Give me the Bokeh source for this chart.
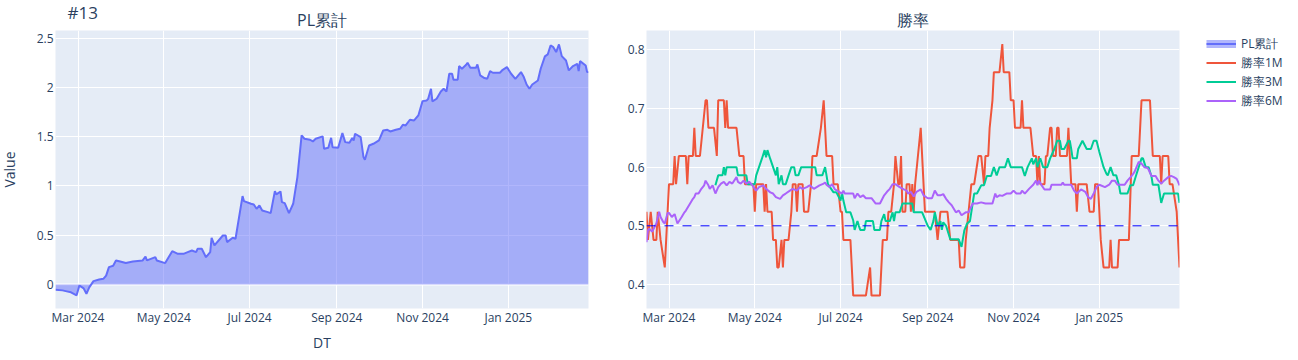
import pandas as pd
from math import pi
from bokeh.plotting import figure
from bokeh.layouts import row
from bokeh.models import (Range1d, FixedTicker, NumeralTickFormatter, DatetimeTickFormatter,
                          Label, Span, Legend, LegendItem)
from bokeh.embed import file_html
from bokeh.resources import INLINE

# ---------------- data ----------------
pl_dates = [
    "2024-02-14", "2024-02-19", "2024-02-22", "2024-02-25", "2024-02-27", "2024-02-29", "2024-03-02", "2024-03-05", "2024-03-07", "2024-03-09",
    "2024-03-12", "2024-03-16", "2024-03-19", "2024-03-21", "2024-03-23", "2024-03-26", "2024-03-28", "2024-03-31", "2024-04-04", "2024-04-09",
    "2024-04-16", "2024-04-18", "2024-04-19", "2024-04-25", "2024-04-26", "2024-05-02", "2024-05-07", "2024-05-11", "2024-05-15", "2024-05-18",
    "2024-05-21", "2024-05-24", "2024-05-25", "2024-05-28", "2024-05-31", "2024-06-03", "2024-06-04", "2024-06-06", "2024-06-12", "2024-06-14",
    "2024-06-15", "2024-06-19", "2024-06-21", "2024-06-26", "2024-06-27", "2024-07-02", "2024-07-04", "2024-07-06", "2024-07-08", "2024-07-10",
    "2024-07-14", "2024-07-16", "2024-07-19", "2024-07-20", "2024-07-23", "2024-07-24", "2024-07-26", "2024-07-29", "2024-08-01", "2024-08-02",
    "2024-08-04", "2024-08-07", "2024-08-09", "2024-08-13", "2024-08-15", "2024-08-17", "2024-08-22", "2024-08-23", "2024-08-26", "2024-08-28",
    "2024-08-29", "2024-09-02", "2024-09-05", "2024-09-07", "2024-09-10", "2024-09-12", "2024-09-13", "2024-09-14", "2024-09-18", "2024-09-20",
    "2024-09-21", "2024-09-24", "2024-09-27", "2024-10-01", "2024-10-04", "2024-10-07", "2024-10-09", "2024-10-13", "2024-10-16", "2024-10-18",
    "2024-10-20", "2024-10-23", "2024-10-26", "2024-10-29", "2024-11-01", "2024-11-04", "2024-11-05", "2024-11-07", "2024-11-08", "2024-11-11",
    "2024-11-14", "2024-11-16", "2024-11-18", "2024-11-20", "2024-11-22", "2024-11-23", "2024-11-26", "2024-11-27", "2024-11-29", "2024-12-02",
    "2024-12-03", "2024-12-05", "2024-12-09", "2024-12-10", "2024-12-12", "2024-12-15", "2024-12-17", "2024-12-19", "2024-12-21", "2024-12-26",
    "2024-12-28", "2024-12-31", "2025-01-03", "2025-01-06", "2025-01-10", "2025-01-12", "2025-01-14", "2025-01-16", "2025-01-18", "2025-01-22",
    "2025-01-24", "2025-01-27", "2025-01-29", "2025-01-31", "2025-02-02", "2025-02-04", "2025-02-06", "2025-02-08", "2025-02-11", "2025-02-13",
    "2025-02-16", "2025-02-19", "2025-02-20", "2025-02-21", "2025-02-25", "2025-02-26", "2025-02-27",
]
pl_values = [
    -0.054, -0.06, -0.07, -0.08, -0.095, -0.11, -0.01, -0.04, -0.095, -0.03,
    0.034, 0.05, 0.057, 0.09, 0.176, 0.19, 0.244, 0.233, 0.217, 0.233,
    0.244, 0.284, 0.244, 0.277, 0.244, 0.217, 0.338, 0.311, 0.311, 0.328,
    0.345, 0.328, 0.362, 0.362, 0.277, 0.328, 0.474, 0.396, 0.497, 0.497,
    0.43, 0.474, 0.464, 0.897, 0.846, 0.819, 0.812, 0.768, 0.802, 0.751,
    0.734, 0.724, 0.948, 0.914, 0.944, 0.836, 0.826, 0.724, 0.819, 0.91,
    1.09, 1.513, 1.479, 1.469, 1.452, 1.479, 1.503, 1.377, 1.387, 1.489,
    1.394, 1.387, 1.536, 1.445, 1.438, 1.486, 1.462, 1.53, 1.496, 1.293,
    1.266, 1.411, 1.428, 1.462, 1.563, 1.57, 1.553, 1.57, 1.58, 1.621,
    1.614, 1.672, 1.665, 1.716, 1.861, 1.868, 1.885, 1.986, 1.858, 1.885,
    1.959, 1.986, 1.959, 2.139, 2.139, 2.078, 2.078, 2.217, 2.19, 2.23,
    2.25, 2.2, 2.2, 2.233, 2.122, 2.095, 2.088, 2.166, 2.149, 2.149,
    2.179, 2.206, 2.139, 2.088, 2.156, 2.105, 2.03, 1.986, 2.03, 2.071,
    2.19, 2.315, 2.335, 2.426, 2.409, 2.359, 2.437, 2.318, 2.274, 2.173,
    2.217, 2.24, 2.166, 2.267, 2.223, 2.156, 2.156,
]

wr1m_dates = [
    "2024-02-14", "2024-02-15", "2024-02-17", "2024-02-19", "2024-02-21", "2024-02-22", "2024-02-24", "2024-02-27", "2024-02-29", "2024-03-01",
    "2024-03-04", "2024-03-05", "2024-03-06", "2024-03-08", "2024-03-13", "2024-03-14", "2024-03-15", "2024-03-18", "2024-03-19", "2024-03-20",
    "2024-03-23", "2024-03-27", "2024-03-28", "2024-03-29", "2024-04-02", "2024-04-04", "2024-04-05", "2024-04-09", "2024-04-10", "2024-04-11",
    "2024-04-12", "2024-04-18", "2024-04-20", "2024-04-23", "2024-04-24", "2024-04-30", "2024-05-01", "2024-05-02", "2024-05-07", "2024-05-08",
    "2024-05-09", "2024-05-10", "2024-05-13", "2024-05-14", "2024-05-16", "2024-05-17", "2024-05-18", "2024-05-20", "2024-05-21", "2024-05-22",
    "2024-05-25", "2024-05-27", "2024-05-28", "2024-05-30", "2024-05-31", "2024-06-01", "2024-06-04", "2024-06-05", "2024-06-08", "2024-06-10",
    "2024-06-11", "2024-06-14", "2024-06-17", "2024-06-19", "2024-06-20", "2024-06-21", "2024-06-25", "2024-06-26", "2024-06-29", "2024-07-01",
    "2024-07-02", "2024-07-03", "2024-07-08", "2024-07-10", "2024-07-19", "2024-07-22", "2024-07-23", "2024-07-29", "2024-07-30", "2024-07-31",
    "2024-08-03", "2024-08-04", "2024-08-06", "2024-08-08", "2024-08-09", "2024-08-11", "2024-08-12", "2024-08-13", "2024-08-14", "2024-08-16",
    "2024-08-17", "2024-08-19", "2024-08-20", "2024-08-21", "2024-08-22", "2024-08-23", "2024-08-25", "2024-08-27", "2024-08-29", "2024-08-30",
    "2024-09-06", "2024-09-08", "2024-09-10", "2024-09-15", "2024-09-17", "2024-09-23", "2024-09-24", "2024-09-27", "2024-09-28", "2024-09-30",
    "2024-10-02", "2024-10-04", "2024-10-07", "2024-10-09", "2024-10-11", "2024-10-12", "2024-10-14", "2024-10-15", "2024-10-17", "2024-10-18",
    "2024-10-22", "2024-10-24", "2024-10-25", "2024-10-29", "2024-10-30", "2024-11-01", "2024-11-02", "2024-11-06", "2024-11-07", "2024-11-08",
    "2024-11-13", "2024-11-15", "2024-11-17", "2024-11-18", "2024-11-19", "2024-11-20", "2024-11-22", "2024-11-23", "2024-11-24", "2024-11-25",
    "2024-11-27", "2024-11-28", "2024-11-29", "2024-12-01", "2024-12-02", "2024-12-03", "2024-12-04", "2024-12-09", "2024-12-10", "2024-12-11",
    "2024-12-12", "2024-12-15", "2024-12-16", "2024-12-17", "2024-12-23", "2024-12-25", "2024-12-28", "2024-12-29", "2024-12-31", "2025-01-01",
    "2025-01-02", "2025-01-04", "2025-01-08", "2025-01-09", "2025-01-10", "2025-01-14", "2025-01-15", "2025-01-22", "2025-01-24", "2025-01-29",
    "2025-01-31", "2025-02-06", "2025-02-08", "2025-02-13", "2025-02-14", "2025-02-15", "2025-02-19", "2025-02-20", "2025-02-22", "2025-02-25",
    "2025-02-26", "2025-02-27",
]
wr1m_values = [
    0.524, 0.476, 0.524, 0.476, 0.476, 0.524, 0.476, 0.429, 0.524, 0.571,
    0.571, 0.619, 0.571, 0.619, 0.619, 0.571, 0.619, 0.619, 0.667, 0.619,
    0.619, 0.714, 0.714, 0.667, 0.667, 0.619, 0.714, 0.714, 0.667, 0.714,
    0.667, 0.667, 0.619, 0.619, 0.571, 0.571, 0.524, 0.571, 0.571, 0.524,
    0.571, 0.524, 0.524, 0.476, 0.476, 0.429, 0.429, 0.476, 0.429, 0.476,
    0.476, 0.524, 0.571, 0.571, 0.524, 0.571, 0.571, 0.524, 0.524, 0.571,
    0.619, 0.619, 0.667, 0.714, 0.667, 0.619, 0.619, 0.571, 0.571, 0.524,
    0.524, 0.476, 0.476, 0.381, 0.381, 0.429, 0.381, 0.381, 0.429, 0.476,
    0.476, 0.524, 0.524, 0.571, 0.619, 0.571, 0.571, 0.619, 0.524, 0.524,
    0.571, 0.571, 0.524, 0.571, 0.524, 0.571, 0.619, 0.667, 0.571, 0.524,
    0.524, 0.476, 0.524, 0.524, 0.476, 0.476, 0.429, 0.429, 0.476, 0.524,
    0.571, 0.571, 0.619, 0.619, 0.571, 0.619, 0.619, 0.667, 0.714, 0.762,
    0.762, 0.810, 0.762, 0.762, 0.714, 0.714, 0.667, 0.667, 0.714, 0.667,
    0.667, 0.619, 0.619, 0.571, 0.619, 0.571, 0.571, 0.571, 0.619, 0.619,
    0.667, 0.667, 0.619, 0.619, 0.667, 0.667, 0.619, 0.619, 0.667, 0.619,
    0.571, 0.571, 0.524, 0.571, 0.571, 0.524, 0.524, 0.571, 0.571, 0.524,
    0.476, 0.429, 0.429, 0.476, 0.429, 0.429, 0.476, 0.476, 0.619, 0.619,
    0.714, 0.714, 0.619, 0.619, 0.571, 0.619, 0.619, 0.571, 0.571, 0.524,
    0.476, 0.429,
]

wr3m_dates = [
    "2024-04-03", "2024-04-05", "2024-04-08", "2024-04-09", "2024-04-10", "2024-04-11", "2024-04-18", "2024-04-19", "2024-04-25", "2024-04-26",
    "2024-05-01", "2024-05-02", "2024-05-04", "2024-05-06", "2024-05-08", "2024-05-09", "2024-05-10", "2024-05-12", "2024-05-14", "2024-05-16",
    "2024-05-17", "2024-05-18", "2024-05-20", "2024-05-21", "2024-05-23", "2024-05-25", "2024-05-27", "2024-05-29", "2024-05-30", "2024-06-01",
    "2024-06-03", "2024-06-13", "2024-06-14", "2024-06-18", "2024-06-20", "2024-06-21", "2024-06-22", "2024-06-26", "2024-06-28", "2024-07-01",
    "2024-07-02", "2024-07-03", "2024-07-05", "2024-07-08", "2024-07-10", "2024-07-11", "2024-07-13", "2024-07-14", "2024-07-15", "2024-07-18",
    "2024-07-19", "2024-07-24", "2024-07-25", "2024-07-29", "2024-07-30", "2024-08-01", "2024-08-02", "2024-08-05", "2024-08-07", "2024-08-08",
    "2024-08-09", "2024-08-12", "2024-08-14", "2024-08-16", "2024-08-21", "2024-08-22", "2024-08-28", "2024-09-01", "2024-09-03", "2024-09-05",
    "2024-09-06", "2024-09-08", "2024-09-10", "2024-09-11", "2024-09-12", "2024-09-14", "2024-09-17", "2024-09-23", "2024-09-25", "2024-09-27",
    "2024-09-29", "2024-10-01", "2024-10-04", "2024-10-06", "2024-10-09", "2024-10-11", "2024-10-13", "2024-10-16", "2024-10-18", "2024-10-20",
    "2024-10-22", "2024-10-26", "2024-10-28", "2024-10-30", "2024-11-07", "2024-11-09", "2024-11-11", "2024-11-14", "2024-11-15", "2024-11-17",
    "2024-11-18", "2024-11-20", "2024-11-22", "2024-11-25", "2024-11-27", "2024-11-30", "2024-12-02", "2024-12-04", "2024-12-05", "2024-12-07",
    "2024-12-10", "2024-12-11", "2024-12-12", "2024-12-13", "2024-12-16", "2024-12-17", "2024-12-20", "2024-12-23", "2024-12-26", "2024-12-28",
    "2024-12-30", "2025-01-01", "2025-01-04", "2025-01-06", "2025-01-07", "2025-01-09", "2025-01-11", "2025-01-13", "2025-01-15", "2025-01-16",
    "2025-01-21", "2025-01-23", "2025-01-25", "2025-01-27", "2025-01-29", "2025-01-31", "2025-02-01", "2025-02-03", "2025-02-05", "2025-02-07",
    "2025-02-08", "2025-02-12", "2025-02-14", "2025-02-16", "2025-02-26", "2025-02-27",
]
wr3m_values = [
    0.569, 0.586, 0.586, 0.600, 0.586, 0.600, 0.600, 0.586, 0.586, 0.571,
    0.571, 0.586, 0.600, 0.614, 0.629, 0.617, 0.629, 0.614, 0.600, 0.586,
    0.600, 0.571, 0.586, 0.571, 0.571, 0.586, 0.600, 0.600, 0.586, 0.586,
    0.600, 0.600, 0.586, 0.586, 0.600, 0.586, 0.571, 0.557, 0.557, 0.543,
    0.557, 0.543, 0.523, 0.523, 0.509, 0.493, 0.508, 0.500, 0.493, 0.493,
    0.508, 0.508, 0.493, 0.493, 0.508, 0.520, 0.508, 0.508, 0.523, 0.508,
    0.523, 0.523, 0.538, 0.538, 0.538, 0.523, 0.523, 0.500, 0.493, 0.508,
    0.523, 0.500, 0.508, 0.493, 0.506, 0.500, 0.477, 0.477, 0.464, 0.492,
    0.504, 0.508, 0.555, 0.555, 0.569, 0.569, 0.585, 0.585, 0.600, 0.586,
    0.600, 0.600, 0.615, 0.600, 0.600, 0.585, 0.600, 0.615, 0.605, 0.615,
    0.600, 0.615, 0.600, 0.600, 0.615, 0.631, 0.645, 0.645, 0.631, 0.631,
    0.645, 0.645, 0.631, 0.615, 0.615, 0.631, 0.645, 0.631, 0.631, 0.645,
    0.645, 0.626, 0.600, 0.589, 0.586, 0.600, 0.586, 0.586, 0.569, 0.555,
    0.555, 0.569, 0.569, 0.585, 0.600, 0.615, 0.615, 0.600, 0.600, 0.585,
    0.570, 0.570, 0.539, 0.555, 0.555, 0.539,
]

wr6m_dates = [
    "2024-02-14", "2024-02-15", "2024-02-16", "2024-02-18", "2024-02-21", "2024-02-23", "2024-02-24", "2024-02-26", "2024-02-27", "2024-02-29",
    "2024-03-01", "2024-03-03", "2024-03-05", "2024-03-06", "2024-03-07", "2024-03-10", "2024-03-12", "2024-03-13", "2024-03-16", "2024-03-18",
    "2024-03-19", "2024-03-20", "2024-03-22", "2024-03-24", "2024-03-26", "2024-03-27", "2024-03-29", "2024-03-30", "2024-04-01", "2024-04-03",
    "2024-04-05", "2024-04-07", "2024-04-09", "2024-04-11", "2024-04-13", "2024-04-15", "2024-04-18", "2024-04-19", "2024-04-21", "2024-04-23",
    "2024-04-25", "2024-04-27", "2024-04-29", "2024-05-01", "2024-05-02", "2024-05-04", "2024-05-07", "2024-05-09", "2024-05-12", "2024-05-14",
    "2024-05-16", "2024-05-19", "2024-05-21", "2024-05-23", "2024-05-26", "2024-05-28", "2024-05-31", "2024-06-02", "2024-06-04", "2024-06-07",
    "2024-06-09", "2024-06-12", "2024-06-14", "2024-06-16", "2024-06-19", "2024-06-20", "2024-06-21", "2024-06-23", "2024-06-25", "2024-06-27",
    "2024-06-30", "2024-07-02", "2024-07-03", "2024-07-04", "2024-07-10", "2024-07-11", "2024-07-13", "2024-07-15", "2024-07-17", "2024-07-19",
    "2024-07-23", "2024-07-26", "2024-07-29", "2024-08-01", "2024-08-03", "2024-08-05", "2024-08-07", "2024-08-09", "2024-08-12", "2024-08-15",
    "2024-08-17", "2024-08-18", "2024-08-20", "2024-08-22", "2024-08-24", "2024-08-27", "2024-08-29", "2024-09-01", "2024-09-04", "2024-09-06",
    "2024-09-08", "2024-09-10", "2024-09-12", "2024-09-14", "2024-09-16", "2024-09-18", "2024-09-21", "2024-09-23", "2024-09-25", "2024-09-28",
    "2024-09-30", "2024-10-03", "2024-10-06", "2024-10-09", "2024-10-12", "2024-10-17", "2024-10-19", "2024-10-20", "2024-10-22", "2024-10-24",
    "2024-10-27", "2024-10-30", "2024-11-01", "2024-11-03", "2024-11-06", "2024-11-07", "2024-11-09", "2024-11-12", "2024-11-15", "2024-11-17",
    "2024-11-18", "2024-11-19", "2024-11-21", "2024-11-23", "2024-11-27", "2024-11-28", "2024-12-05", "2024-12-06", "2024-12-07", "2024-12-12",
    "2024-12-14", "2024-12-16", "2024-12-19", "2024-12-22", "2024-12-24", "2024-12-26", "2024-12-28", "2024-12-30", "2025-01-01", "2025-01-05",
    "2025-01-08", "2025-01-10", "2025-01-12", "2025-01-14", "2025-01-19", "2025-01-21", "2025-01-24", "2025-01-26", "2025-01-29", "2025-01-31",
    "2025-02-02", "2025-02-04", "2025-02-05", "2025-02-07", "2025-02-10", "2025-02-12", "2025-02-14", "2025-02-16", "2025-02-19", "2025-02-21",
    "2025-02-23", "2025-02-25", "2025-02-26", "2025-02-27",
]
wr6m_values = [
    0.472, 0.492, 0.495, 0.490, 0.504, 0.524, 0.515, 0.506, 0.504, 0.522,
    0.522, 0.515, 0.520, 0.512, 0.504, 0.515, 0.523, 0.526, 0.538, 0.546,
    0.549, 0.555, 0.555, 0.563, 0.569, 0.577, 0.569, 0.563, 0.569, 0.555,
    0.566, 0.572, 0.575, 0.569, 0.575, 0.572, 0.583, 0.575, 0.572, 0.577,
    0.572, 0.575, 0.570, 0.563, 0.560, 0.566, 0.569, 0.563, 0.557, 0.555,
    0.549, 0.546, 0.552, 0.555, 0.560, 0.563, 0.560, 0.566, 0.563, 0.566,
    0.569, 0.563, 0.566, 0.569, 0.572, 0.574, 0.570, 0.566, 0.571, 0.562,
    0.558, 0.555, 0.560, 0.555, 0.555, 0.547, 0.555, 0.549, 0.552, 0.547,
    0.547, 0.538, 0.538, 0.552, 0.558, 0.563, 0.571, 0.571, 0.566, 0.562,
    0.560, 0.555, 0.558, 0.550, 0.558, 0.562, 0.552, 0.547, 0.547, 0.560,
    0.552, 0.552, 0.554, 0.546, 0.540, 0.535, 0.523, 0.526, 0.518, 0.523,
    0.523, 0.538, 0.538, 0.540, 0.538, 0.538, 0.555, 0.549, 0.552, 0.551,
    0.555, 0.555, 0.560, 0.555, 0.555, 0.560, 0.555, 0.563, 0.570, 0.577,
    0.569, 0.577, 0.569, 0.562, 0.562, 0.570, 0.570, 0.574, 0.570, 0.570,
    0.560, 0.555, 0.562, 0.558, 0.549, 0.546, 0.555, 0.566, 0.570, 0.566,
    0.570, 0.577, 0.577, 0.570, 0.570, 0.577, 0.585, 0.592, 0.609, 0.606,
    0.600, 0.599, 0.596, 0.585, 0.585, 0.577, 0.572, 0.577, 0.583, 0.585,
    0.583, 0.580, 0.575, 0.569,
]

x_tick_dates = ["2024-03-01", "2024-05-01", "2024-07-01", "2024-09-01", "2024-11-01", "2025-01-01"]
pl_ticks = [0, 0.5, 1, 1.5, 2, 2.5]
wr_ticks = [0.4, 0.5, 0.6, 0.7, 0.8]
wr_reference = 0.5
series_names = ["PL累計", "勝率1M", "勝率3M", "勝率6M"]
main_title = "#13"
sub_titles = ["PL累計", "勝率"]
x_title = "DT"
y_title = "Value"

# ---------------- styling ----------------
FONT = "Open Sans"
TXT = "#2a3f5f"
BG = "#E5ECF6"
C_PL, C_1M, C_3M, C_6M = "#636efa", "#EF553B", "#00cc96", "#ab63fa"
NAN = float("nan")

x_start = pd.Timestamp(pl_dates[0])
x_end = pd.Timestamp(pl_dates[-1])
x_ticks_ms = [pd.Timestamp(d).value // 10**6 for d in x_tick_dates]
fmt = "%b %Y"


def make_fig(y_lo, y_hi, yticks, left, right):
    p = figure(x_axis_type="datetime", frame_width=533, frame_height=278,
               min_border_left=left, min_border_right=right, min_border_top=30,
               min_border_bottom=50, output_backend="svg", toolbar_location=None,
               x_range=Range1d(x_start, x_end), y_range=Range1d(y_lo, y_hi))
    p.background_fill_color = BG
    p.border_fill_color = "white"
    p.outline_line_color = None
    p.xaxis.ticker = FixedTicker(ticks=x_ticks_ms)
    p.xaxis.formatter = DatetimeTickFormatter(days=fmt, months=fmt, years=fmt,
                                              hours=fmt, minutes=fmt, seconds=fmt)
    p.yaxis.ticker = FixedTicker(ticks=yticks)
    p.yaxis.formatter = NumeralTickFormatter(format="0.[0]")
    for ax in (p.xaxis[0], p.yaxis[0]):
        ax.axis_line_color = None
        ax.major_tick_line_color = None
        ax.minor_tick_line_color = None
        ax.major_tick_out = 0
        ax.major_tick_in = 0
        ax.minor_tick_out = 0
        ax.minor_tick_in = 0
        ax.major_label_text_font = FONT
        ax.major_label_text_font_size = "12px"
        ax.major_label_text_color = TXT
    p.xaxis.major_label_standoff = 0
    p.yaxis.major_label_standoff = 2
    p.xgrid.grid_line_color = "white"
    p.ygrid.grid_line_color = "white"
    p.xgrid.grid_line_width = 1
    p.ygrid.grid_line_width = 1
    return p


def add_text(p, side, txt, x, y, size, align="center", angle=0.0):
    p.add_layout(Label(x=x, y=y, x_units="screen", y_units="screen", text=txt,
                       text_font=FONT, text_font_size=size, text_color=TXT,
                       text_align=align, text_baseline="middle", angle=angle), side)


# ---------------- left: PL ----------------
pl_x = pd.to_datetime(pl_dates)
p1 = make_fig(-0.244, 2.578, pl_ticks, 55, 36)
p1.add_layout(Span(location=0, dimension="width", line_color="white", line_width=2, level="underlay"))
p1.varea(x=pl_x, y1=0, y2=pl_values, fill_color=C_PL, fill_alpha=0.5)
p1.line(x=pl_x, y=pl_values, line_color=C_PL, line_width=2)
add_text(p1, "above", sub_titles[0], 266.5, 10.5, "16px")
add_text(p1, "right", main_title, -521, 296, "17px", align="left")
add_text(p1, "below", x_title, 266.5, 5, "14px")
add_text(p1, "left", y_title, -5, 139, "14px", angle=pi / 2)

# ---------------- right: win rates ----------------
p2 = make_fig(0.359, 0.833, wr_ticks, 21, 118)
r_pl_fill = p2.line(x=[x_start], y=[NAN], line_color=C_PL, line_alpha=0.5, line_width=8)
r_pl_line = p2.line(x=[x_start], y=[NAN], line_color=C_PL, line_width=2)
r1 = p2.line(x=pd.to_datetime(wr1m_dates), y=wr1m_values, line_color=C_1M, line_width=2)
r3 = p2.line(x=pd.to_datetime(wr3m_dates), y=wr3m_values, line_color=C_3M, line_width=2)
r6 = p2.line(x=pd.to_datetime(wr6m_dates), y=wr6m_values, line_color=C_6M, line_width=2)
p2.add_layout(Span(location=wr_reference, dimension="width", line_color="blue",
                   line_width=1, line_dash="9 9"))
add_text(p2, "above", sub_titles[1], 266.5, 11, "16px")

legend = Legend(items=[
    LegendItem(label=series_names[0], renderers=[r_pl_fill, r_pl_line]),
    LegendItem(label=series_names[1], renderers=[r1]),
    LegendItem(label=series_names[2], renderers=[r3]),
    LegendItem(label=series_names[3], renderers=[r6]),
], location=(27, 198))
legend.padding = 0
legend.margin = 0
legend.spacing = 0
legend.glyph_width = 30
legend.glyph_height = 19
legend.label_height = 19
legend.label_standoff = 5
legend.label_text_font = FONT
legend.label_text_font_size = "12px"
legend.label_text_color = TXT
legend.border_line_color = None
legend.background_fill_alpha = 0
p2.add_layout(legend, "right")

layout = row(p1, p2)
open("out.html", "w").write(file_html(layout, INLINE))
